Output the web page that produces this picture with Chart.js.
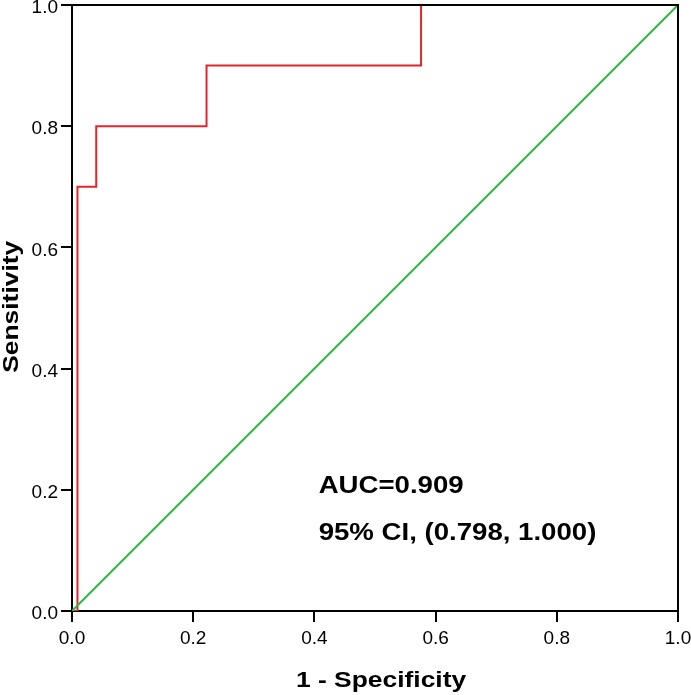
<!DOCTYPE html>
<html>
<head>
<meta charset="utf-8">
<script src="https://cdn.jsdelivr.net/npm/chart.js@4"></script>
<style>
  html, body { margin: 0; padding: 0; background: #fff; }
  #wrap { width: 691px; height: 695px; }
</style>
</head>
<body>
<div id="wrap"><canvas id="roc"></canvas></div>
<script>
// ROC curve
const rocX = [0, 0.009, 0.009, 0.04, 0.04, 0.222, 0.222, 0.576, 0.576, 1];
const rocY = [0, 0, 0.7, 0.7, 0.8, 0.8, 0.9, 0.9, 1, 1];
const refX = [0, 1];
const refY = [0, 1];
const tickVals = [0, 0.2, 0.4, 0.6, 0.8, 1.0];
const notes = ["AUC=0.909", "95% CI, (0.798, 1.000)"];
const xTitle = "1 - Specificity";
const yTitle = "Sensitivity";

const FONT = "'Liberation Sans', Arial, sans-serif";
const toPts = (xs, ys) => xs.map((x, i) => ({ x: x, y: ys[i] }));

// text a bit wider than it is tall, like the source image
function wideText(c, txt, x, y, stretch, align) {
  c.save();
  c.translate(x, y);
  c.scale(stretch, 1);
  c.textAlign = align || "left";
  c.fillText(txt, 0, 0);
  c.restore();
}

// top + right frame, axis titles and the AUC text
const extras = {
  id: "extras",
  afterDraw(chart) {
    const c = chart.ctx, a = chart.chartArea;
    const sx = chart.scales.x, sy = chart.scales.y;
    c.save();
    c.strokeStyle = "#000";
    c.lineWidth = 2;
    c.beginPath();
    c.moveTo(a.left, a.top);
    c.lineTo(a.right, a.top);
    c.lineTo(a.right, a.bottom);
    c.stroke();

    c.fillStyle = "#000";
    c.textBaseline = "alphabetic";
    c.font = "bold 24px " + FONT;
    wideText(c, notes[0], sx.getPixelForValue(0.407), sy.getPixelForValue(0.195), 1.15);
    wideText(c, notes[1], sx.getPixelForValue(0.407), sy.getPixelForValue(0.117), 1.15);

    c.font = "bold 22px " + FONT;
    wideText(c, xTitle, sx.getPixelForValue(0.51), 687, 1.2, "center");
    c.save();
    c.translate(18, sy.getPixelForValue(0.502));
    c.rotate(-Math.PI / 2);
    wideText(c, yTitle, 0, 0, 1.2, "center");
    c.restore();
    c.restore();
  }
};

const axisCommon = {
  type: "linear",
  min: 0,
  max: 1,
  afterBuildTicks: s => { s.ticks = tickVals.map(v => ({ value: v })); },
  grid: { drawOnChartArea: false, drawTicks: true, tickLength: 11, color: "#000", lineWidth: 2 },
  border: { display: true, color: "#000", width: 2 },
  ticks: {
    color: "#000",
    padding: 3,
    font: { family: FONT, size: 19 },
    callback: v => Number(v).toFixed(1)
  }
};

new Chart(document.getElementById("roc"), {
  type: "scatter",
  data: {
    datasets: [
      {
        data: toPts(refX, refY),
        showLine: true,
        borderColor: "#2db84a",
        borderWidth: 2,
        pointRadius: 0
      },
      {
        data: toPts(rocX, rocY),
        showLine: true,
        borderColor: "#e3242b",
        borderWidth: 2,
        pointRadius: 0
      }
    ]
  },
  options: {
    responsive: true,
    maintainAspectRatio: false,
    animation: false,
    layout: { padding: { top: 5, right: 13, left: 0, bottom: 0 } },
    plugins: { legend: { display: false }, tooltip: { enabled: false } },
    scales: {
      x: Object.assign({}, axisCommon, {
        ticks: Object.assign({}, axisCommon.ticks, { padding: 5 }),
        afterFit: s => { s.height = 84; s.paddingLeft = 0; s.paddingRight = 0; }
      }),
      y: Object.assign({}, axisCommon, {
        ticks: Object.assign({}, axisCommon.ticks, { labelOffset: 3 }),
        afterFit: s => { s.width = 72; s.paddingTop = 0; s.paddingBottom = 0; }
      })
    }
  },
  plugins: [extras]
});
</script>
</body>
</html>
